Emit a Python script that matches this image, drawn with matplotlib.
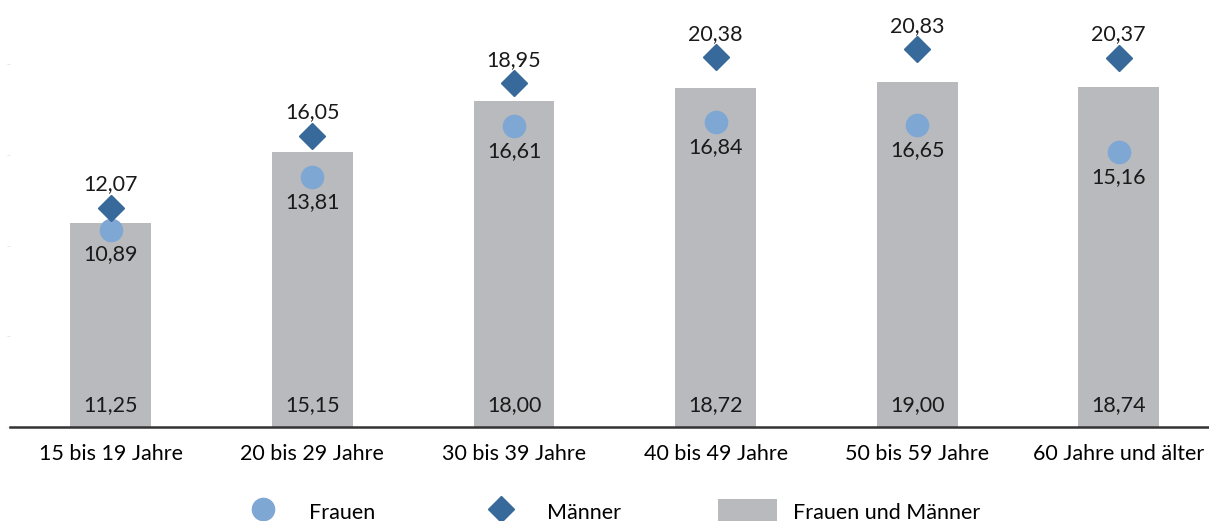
import numpy as np
import matplotlib
matplotlib.use("Agg")
import matplotlib.pyplot as plt
from matplotlib.lines import Line2D
from matplotlib.patches import Patch

plt.rcParams['font.family'] = ['Lato', 'DejaVu Sans']

categories = ["15 bis 19 Jahre", "20 bis 29 Jahre", "30 bis 39 Jahre",
              "40 bis 49 Jahre", "50 bis 59 Jahre", "60 Jahre und älter"]
gesamt = [11.25, 15.15, 18.00, 18.72, 19.00, 18.74]
frauen = [10.89, 13.81, 16.61, 16.84, 16.65, 15.16]
maenner = [12.07, 16.05, 18.95, 20.38, 20.83, 20.37]

bar_color = "#B9BABE"
frauen_color = "#7FA7D4"
maenner_color = "#376A9B"
fs = 15.5


def fmt(v):
    return f"{v:.2f}".replace(".", ",")


fig = plt.figure(figsize=(12.09, 5.21), dpi=100)
ax = fig.add_axes([10 / 1209, 94 / 521, 1209.6 / 1209, 427 / 521])

x = np.arange(len(categories))
ax.bar(x, gesamt, width=0.4, color=bar_color, zorder=1)
ax.plot(x, frauen, linestyle="none", marker="o", markersize=16,
        color=frauen_color, zorder=3)
ax.plot(x, maenner, linestyle="none", marker="D", markersize=13,
        color=maenner_color, zorder=3)

for i in range(len(categories)):
    ax.annotate(fmt(gesamt[i]), (x[i], 0), xytext=(0, 16), textcoords="offset points",
                ha="center", va="center", fontsize=fs, color="#1a1a1a")
    ax.annotate(fmt(frauen[i]), (x[i], frauen[i]), xytext=(0, -18), textcoords="offset points",
                ha="center", va="center", fontsize=fs, color="#1a1a1a")
    ax.annotate(fmt(maenner[i]), (x[i], maenner[i]), xytext=(0, 17), textcoords="offset points",
                ha="center", va="center", fontsize=fs, color="#1a1a1a")

ax.set_xlim(-0.5, len(categories) - 0.5)
ax.set_ylim(0, 23.55)
ax.set_xticks(x)
ax.set_xticklabels(categories, fontsize=fs)
ax.tick_params(axis="x", length=0, pad=12)
ax.set_yticks([0, 5, 10, 15, 20])
ax.set_yticklabels([])
ax.tick_params(axis="y", length=2, width=0.5, color="#dddddd")
for s in ["top", "right", "left"]:
    ax.spines[s].set_visible(False)
ax.spines["bottom"].set_linewidth(1.8)
ax.spines["bottom"].set_color("#333333")

handles = [
    Line2D([], [], linestyle="none", marker="o", markersize=16, color=frauen_color),
    Line2D([], [], linestyle="none", marker="D", markersize=13, color=maenner_color),
    Patch(facecolor=bar_color),
]
fig.legend(handles, ["Frauen", "Männer", "Frauen und Männer"], loc="center",
           bbox_to_anchor=(0.502, 0.017), ncol=3, frameon=False, fontsize=fs,
           handlelength=2.75, handleheight=1.5, handletextpad=0.75,
           columnspacing=4.5)

fig.savefig("out.png", dpi=100)
